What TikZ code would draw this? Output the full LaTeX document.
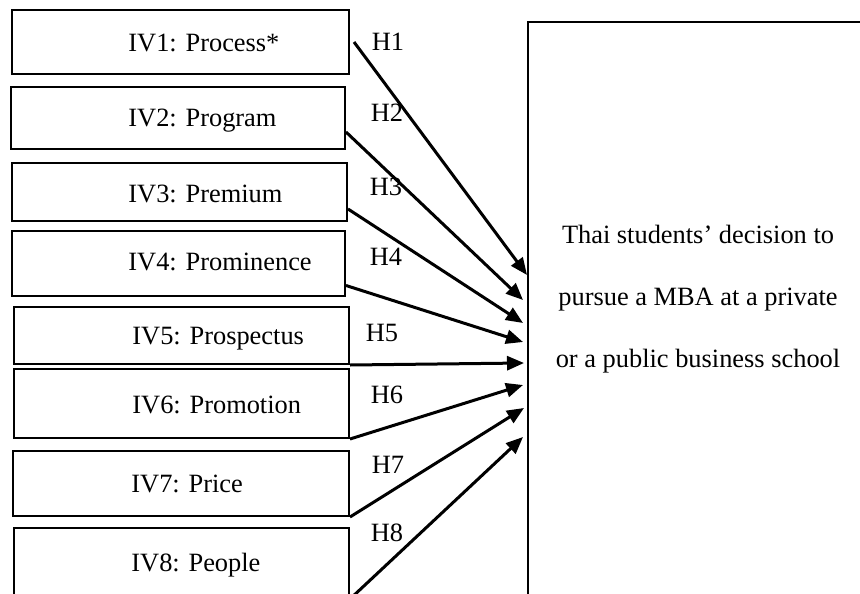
\documentclass[tikz,border=0pt]{standalone}
\usepackage{fontspec}
\setmainfont{Liberation Serif}
\usetikzlibrary{arrows.meta}

\begin{document}
\begin{tikzpicture}[x=0.5pt, y=-0.5pt,
  ivbox/.style={draw, line width=1pt, rectangle, anchor=north west, inner sep=0pt},
  ivtext/.style={anchor=base west, inner sep=0pt, font=\fontsize{13.2pt}{16pt}\selectfont},
  hyp/.style={inner sep=0pt, font=\fontsize{13.2pt}{16pt}\selectfont},
  effect/.style={line width=1.5pt, -{Triangle[length=8.5pt, width=7pt]}}]
\useasboundingbox (0,0) rectangle (860,593);
\clip (0,0) rectangle (860,593);

% Independent variables
\node[ivbox, minimum width=168.5pt, minimum height=32pt] (iv1) at (11,9) {};
\node[ivbox, minimum width=167pt, minimum height=31pt] (iv2) at (10,86) {};
\node[ivbox, minimum width=167.5pt, minimum height=29pt] (iv3) at (11,162) {};
\node[ivbox, minimum width=166.5pt, minimum height=32.5pt] (iv4) at (11,230) {};
\node[ivbox, minimum width=167.5pt, minimum height=28.5pt] (iv5) at (13,306) {};
\node[ivbox, minimum width=167.5pt, minimum height=34.5pt] (iv6) at (13,368) {};
\node[ivbox, minimum width=168pt, minimum height=32.5pt] (iv7) at (12,450) {};
\node[ivbox, minimum width=167.5pt, minimum height=35pt] (iv8) at (13,527) {};

\node[ivtext] (iv1txt) at (128,52) {IV1: Process*};
\node[ivtext] (iv2txt) at (128,127) {IV2: Program};
\node[ivtext] (iv3txt) at (128,202) {IV3: Premium};
\node[ivtext] (iv4txt) at (128,270) {IV4: Prominence};
\node[ivtext] (iv5txt) at (132,344) {IV5: Prospectus};
\node[ivtext] (iv6txt) at (132,413) {IV6: Promotion};
\node[ivtext] (iv7txt) at (131,492) {IV7: Price};
\node[ivtext] (iv8txt) at (131,571) {IV8: People};

% Dependent variable
\node[draw, line width=1pt, rectangle, anchor=north west, inner sep=0pt,
  minimum width=200pt, minimum height=310pt] (dv) at (527,21) {};
\node[align=center, font=\fontsize{13.2pt}{31pt}\selectfont] (dvtxt) at (698,299)
  {Thai students’ decision to\\pursue a MBA at a private\\or a public business school};

% Arrow ends on the left side of dv
\coordinate (e1) at (527,275);
\coordinate (e2) at (523,300);
\coordinate (e3) at (523,323);
\coordinate (e4) at (523,342);
\coordinate (e5) at (524,363);
\coordinate (e6) at (523,385);
\coordinate (e7) at (524,408);
\coordinate (e8) at (523,437);

% Hypotheses
\draw[effect] ([xshift=2pt]iv1.east) -- (e1);
\draw[effect] ([yshift=-7pt]iv2.east) -- (e2);
\draw[effect] ([yshift=-8.5pt]iv3.east) -- (e3);
\draw[effect] ([yshift=-11pt]iv4.east) -- (e4);
\draw[effect] (iv5.south east) -- (e5);
\draw[effect] (iv6.south east) -- (e6);
\draw[effect] (iv7.south east) -- (e7);
\draw[effect] (iv8.south east) -- (e8);

\node[hyp] (h1) at (388,42) {H1};
\node[hyp] (h2) at (387,113) {H2};
\node[hyp] (h3) at (386,187) {H3};
\node[hyp] (h4) at (386,257) {H4};
\node[hyp] (h5) at (382,333) {H5};
\node[hyp] (h6) at (387,395) {H6};
\node[hyp] (h7) at (388,465) {H7};
\node[hyp] (h8) at (387,533) {H8};

\end{tikzpicture}
\end{document}
